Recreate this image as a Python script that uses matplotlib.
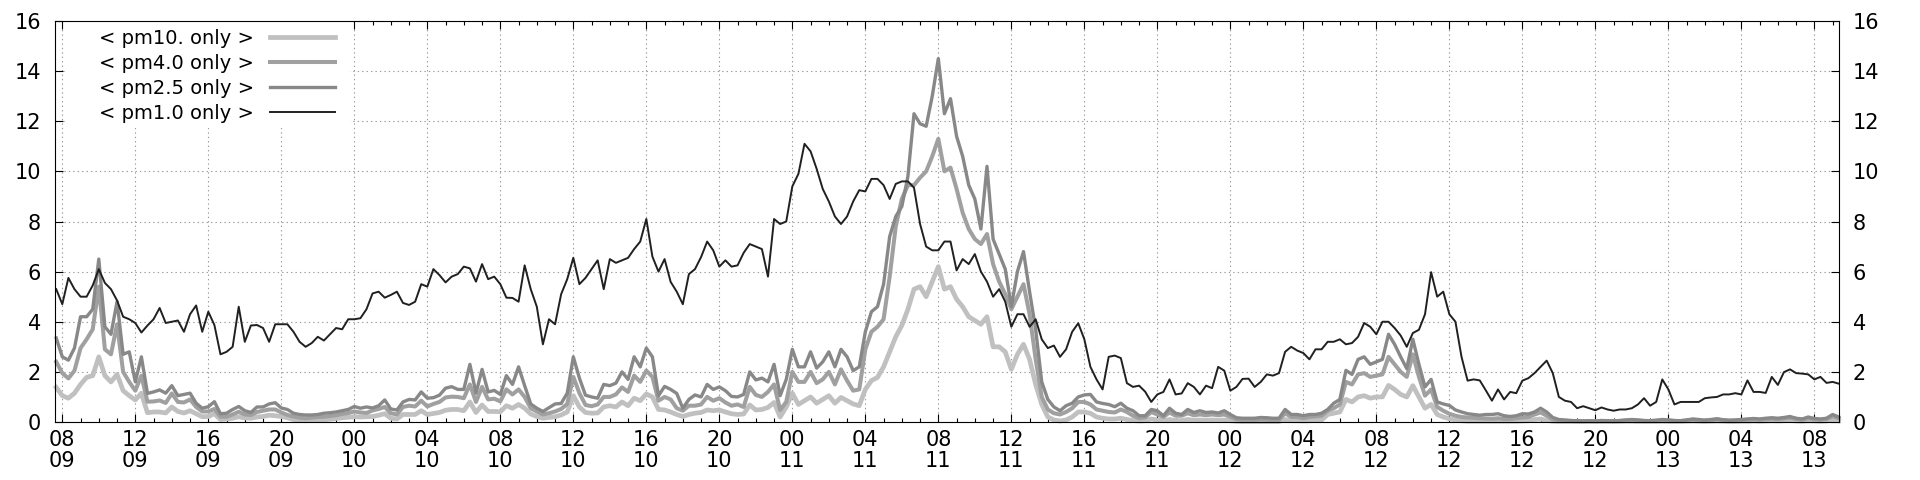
import matplotlib; matplotlib.use("Agg")
import matplotlib.pyplot as plt
import matplotlib.dates as mdates
from matplotlib.patches import Rectangle
import pandas as pd

# ── Data (20-minute samples, 09 07:40 -> 13 09:20) ───────────────────────────
START = "2020-03-09 07:40"

pm1_0 = [
    5.3,
    4.7, 5.75, 5.3, 5.0, 5.0, 5.45, 6.1, 5.55, 5.3, 4.85, 4.2, 4.1,
    3.95, 3.57, 3.85, 4.1, 4.55, 3.95, 4.0, 4.05, 3.6, 4.3, 4.65, 3.6,
    4.4, 3.87, 2.7, 2.8, 3.0, 4.6, 3.2, 3.85, 3.87, 3.75, 3.2, 3.9,
    3.9, 3.9, 3.6, 3.2, 3.0, 3.15, 3.4, 3.25, 3.5, 3.75, 3.7, 4.1,
    4.1, 4.14, 4.5, 5.13, 5.2, 4.96, 5.07, 5.2, 4.75, 4.67, 4.8, 5.5,
    5.4, 6.1, 5.86, 5.57, 5.8, 5.9, 6.2, 6.13, 5.6, 6.3, 5.7, 5.8,
    5.5, 4.96, 4.95, 4.8, 6.25, 5.3, 4.6, 3.1, 4.1, 3.9, 5.1, 5.7,
    6.55, 5.5, 5.75, 6.1, 6.45, 5.3, 6.5, 6.35, 6.45, 6.55, 6.9, 7.2,
    8.1, 6.6, 6.0, 6.5, 5.59, 5.2, 4.7, 5.9, 6.1, 6.58, 7.2, 6.85,
    6.2, 6.45, 6.2, 6.25, 6.75, 7.1, 7.0, 6.9, 5.8, 8.1, 7.9, 8.0,
    9.4, 9.9, 11.1, 10.8, 10.1, 9.3, 8.8, 8.2, 7.9, 8.2, 8.8, 9.25,
    9.2, 9.7, 9.7, 9.45, 8.9, 9.5, 9.6, 9.6, 9.35, 7.9, 7.0, 6.85,
    6.85, 7.2, 7.2, 6.05, 6.5, 6.3, 6.7, 6.0, 5.6, 5.0, 5.3, 4.8,
    3.8, 4.3, 4.3, 3.8, 4.1, 3.3, 2.95, 3.05, 2.6, 2.9, 3.6, 3.94,
    3.3, 2.2, 1.7, 1.3, 2.6, 2.65, 2.55, 1.55, 1.4, 1.45, 1.21, 0.8,
    1.1, 1.2, 1.7, 1.1, 1.14, 1.55, 1.4, 1.1, 1.45, 1.35, 2.2, 2.05,
    1.25, 1.4, 1.72, 1.73, 1.4, 1.6, 1.9, 1.85, 1.95, 2.8, 3.0, 2.85,
    2.75, 2.5, 2.9, 2.9, 3.2, 3.2, 3.3, 3.1, 3.15, 3.4, 3.95, 3.8,
    3.5, 4.0, 4.0, 3.75, 3.45, 3.0, 3.55, 3.68, 4.3, 5.98, 5.0, 5.2,
    4.3, 4.0, 2.6, 1.65, 1.7, 1.66, 1.26, 0.85, 1.3, 0.9, 1.2, 1.15,
    1.65, 1.75, 1.95, 2.2, 2.45, 1.95, 1.0, 0.85, 0.8, 0.55, 0.63, 0.55,
    0.47, 0.58, 0.5, 0.45, 0.5, 0.5, 0.55, 0.7, 0.95, 0.65, 0.8, 1.7,
    1.3, 0.7, 0.8, 0.8, 0.8, 0.8, 0.95, 0.98, 1.0, 1.1, 1.1, 1.15,
    1.1, 1.66, 1.2, 1.2, 1.16, 1.8, 1.48, 1.99, 2.1, 1.95, 1.93, 1.9,
    1.7, 1.8, 1.56, 1.6, 1.53,
]

pm2_5 = [
    3.35,
    2.6, 2.47, 2.95, 4.2, 4.2, 4.5, 6.5, 3.8, 3.5, 4.8, 2.7, 2.8,
    1.6, 2.6, 1.14, 1.2, 1.28, 1.15, 1.45, 1.05, 1.1, 1.15, 0.75, 0.55,
    0.61, 0.81, 0.33, 0.35, 0.5, 0.62, 0.45, 0.38, 0.6, 0.6, 0.72, 0.77,
    0.56, 0.5, 0.35, 0.3, 0.28, 0.28, 0.3, 0.35, 0.37, 0.4, 0.45, 0.5,
    0.62, 0.55, 0.6, 0.56, 0.65, 0.88, 0.52, 0.48, 0.8, 0.9, 0.88, 1.2,
    0.95, 0.97, 1.07, 1.35, 1.41, 1.3, 1.3, 2.3, 1.15, 2.1, 1.2, 1.26,
    1.1, 1.85, 1.5, 2.2, 1.45, 0.72, 0.55, 0.42, 0.57, 0.72, 0.74, 1.15,
    2.6, 1.75, 1.07, 1.0, 0.95, 1.5, 1.45, 1.55, 2.0, 1.7, 2.6, 2.2,
    2.95, 2.6, 1.05, 1.42, 1.3, 1.14, 0.55, 0.9, 1.08, 1.0, 1.5, 1.3,
    1.4, 1.25, 1.02, 1.0, 1.1, 2.0, 1.68, 1.75, 1.6, 2.3, 1.05, 1.7,
    2.9, 2.2, 2.2, 2.8, 2.15, 2.4, 2.8, 2.2, 2.9, 2.6, 2.05, 2.2,
    3.6, 4.4, 4.6, 5.5, 7.4, 8.2, 8.6, 9.8, 12.3, 11.9, 11.8, 13.0,
    14.5, 12.3, 12.9, 11.4, 10.6, 9.45, 8.9, 7.7, 10.2, 7.3, 6.7, 6.1,
    4.6, 6.0, 6.8, 5.2, 3.7, 1.6, 0.9, 0.6, 0.45, 0.65, 0.75, 1.0,
    1.08, 1.1, 0.8, 0.74, 0.7, 0.61, 0.75, 0.55, 0.45, 0.25, 0.25, 0.5,
    0.45, 0.25, 0.55, 0.35, 0.3, 0.5, 0.38, 0.45, 0.38, 0.4, 0.36, 0.45,
    0.3, 0.17, 0.15, 0.15, 0.15, 0.18, 0.17, 0.15, 0.15, 0.5, 0.3, 0.3,
    0.25, 0.3, 0.3, 0.35, 0.5, 0.75, 0.9, 2.06, 1.9, 2.5, 2.6, 2.3,
    2.4, 2.5, 3.5, 3.1, 2.6, 2.13, 3.3, 2.3, 1.4, 1.7, 0.8, 0.72,
    0.66, 0.48, 0.4, 0.33, 0.3, 0.27, 0.3, 0.3, 0.33, 0.25, 0.22, 0.25,
    0.33, 0.32, 0.4, 0.55, 0.4, 0.18, 0.1, 0.08, 0.06, 0.05, 0.04, 0.05,
    0.04, 0.06, 0.05, 0.04, 0.06, 0.08, 0.1, 0.08, 0.06, 0.05, 0.07, 0.1,
    0.08, 0.06, 0.05, 0.08, 0.12, 0.1, 0.07, 0.1, 0.13, 0.09, 0.07, 0.08,
    0.1, 0.12, 0.14, 0.12, 0.15, 0.17, 0.15, 0.18, 0.22, 0.15, 0.12, 0.2,
    0.14, 0.12, 0.15, 0.3, 0.2,
]

pm4_0 = [
    2.4,
    1.95, 1.74, 2.05, 2.95, 3.3, 3.7, 5.4, 2.9, 2.7, 3.9, 2.0, 1.6,
    1.25, 1.85, 0.81, 0.82, 0.86, 0.76, 1.14, 0.8, 0.78, 0.9, 0.6, 0.42,
    0.42, 0.52, 0.21, 0.21, 0.3, 0.41, 0.3, 0.28, 0.4, 0.45, 0.5, 0.5,
    0.38, 0.28, 0.22, 0.17, 0.15, 0.17, 0.2, 0.21, 0.24, 0.27, 0.32, 0.36,
    0.42, 0.38, 0.36, 0.46, 0.52, 0.6, 0.35, 0.3, 0.6, 0.65, 0.62, 0.85,
    0.62, 0.72, 0.8, 0.98, 1.01, 1.0, 0.95, 1.5, 0.8, 1.4, 0.9, 0.93,
    0.82, 1.3, 1.1, 1.3, 1.0, 0.55, 0.42, 0.3, 0.35, 0.42, 0.52, 0.72,
    1.8, 1.15, 0.68, 0.63, 0.7, 1.0, 1.0, 1.1, 1.38, 1.2, 1.85, 1.6,
    2.05, 1.8, 0.85, 1.0, 0.9, 0.55, 0.45, 0.65, 0.65, 0.7, 1.0, 0.85,
    0.95, 0.78, 0.65, 0.7, 0.6, 1.4, 1.08, 1.0, 1.2, 1.5, 0.48, 0.8,
    2.0, 1.6, 1.6, 2.0, 1.55, 1.7, 2.0, 1.5, 2.1, 1.65, 1.25, 1.3,
    2.9, 3.6, 3.8, 4.1, 5.8, 7.8, 8.9, 9.45, 9.45, 9.75, 10.0, 10.6,
    11.3, 10.0, 10.15, 9.3, 8.35, 7.7, 7.3, 7.1, 7.5, 6.3, 5.6, 5.1,
    4.5, 5.0, 5.5, 4.3, 2.5, 1.0, 0.5, 0.35, 0.3, 0.4, 0.55, 0.8,
    0.8, 0.7, 0.5, 0.45, 0.4, 0.38, 0.5, 0.4, 0.25, 0.15, 0.18, 0.4,
    0.3, 0.2, 0.38, 0.25, 0.25, 0.35, 0.27, 0.3, 0.27, 0.3, 0.27, 0.3,
    0.2, 0.1, 0.08, 0.07, 0.08, 0.1, 0.09, 0.08, 0.08, 0.35, 0.2, 0.2,
    0.15, 0.2, 0.22, 0.25, 0.45, 0.55, 0.7, 1.6, 1.5, 1.9, 1.95, 1.8,
    1.85, 1.9, 2.6, 2.3, 2.0, 1.8, 2.7, 1.8, 1.05, 1.3, 0.6, 0.45,
    0.33, 0.25, 0.2, 0.18, 0.17, 0.15, 0.14, 0.13, 0.15, 0.12, 0.12, 0.15,
    0.18, 0.2, 0.3, 0.38, 0.25, 0.1, 0.06, 0.05, 0.04, 0.03, 0.03, 0.04,
    0.03, 0.04, 0.04, 0.03, 0.04, 0.06, 0.07, 0.06, 0.04, 0.04, 0.05, 0.07,
    0.06, 0.04, 0.04, 0.06, 0.09, 0.07, 0.05, 0.07, 0.1, 0.07, 0.05, 0.06,
    0.07, 0.09, 0.1, 0.09, 0.11, 0.13, 0.11, 0.14, 0.17, 0.12, 0.09, 0.15,
    0.1, 0.09, 0.12, 0.23, 0.15,
]

pm10 = [
    1.38,
    1.05, 0.95, 1.15, 1.5, 1.78, 1.85, 2.6, 1.85, 1.6, 1.9, 1.25, 1.05,
    0.88, 1.15, 0.37, 0.4, 0.4, 0.36, 0.6, 0.42, 0.36, 0.45, 0.33, 0.21,
    0.22, 0.33, 0.1, 0.12, 0.15, 0.21, 0.16, 0.15, 0.2, 0.22, 0.27, 0.25,
    0.22, 0.17, 0.1, 0.06, 0.05, 0.07, 0.08, 0.09, 0.11, 0.14, 0.17, 0.19,
    0.21, 0.2, 0.21, 0.22, 0.27, 0.33, 0.15, 0.12, 0.3, 0.3, 0.3, 0.45,
    0.3, 0.34, 0.38, 0.47, 0.5, 0.5, 0.45, 0.8, 0.38, 0.68, 0.42, 0.42,
    0.41, 0.65, 0.55, 0.7, 0.55, 0.32, 0.22, 0.15, 0.18, 0.21, 0.28, 0.4,
    1.05, 0.6, 0.38, 0.35, 0.36, 0.6, 0.65, 0.6, 0.8, 0.65, 0.95, 0.85,
    1.12, 1.0, 0.5, 0.48, 0.4, 0.3, 0.22, 0.3, 0.35, 0.38, 0.48, 0.45,
    0.48, 0.4, 0.33, 0.3, 0.32, 0.68, 0.48, 0.5, 0.58, 0.78, 0.2, 0.6,
    1.15, 0.7, 0.85, 1.0, 0.75, 0.9, 1.05, 0.75, 0.98, 0.85, 0.72, 0.65,
    1.3, 1.65, 1.78, 2.2, 2.8, 3.4, 3.85, 4.5, 5.3, 5.4, 5.0, 5.6,
    6.2, 5.3, 5.4, 4.9, 4.6, 4.2, 4.05, 3.9, 4.2, 3.0, 3.0, 2.8,
    2.1, 2.7, 3.1, 2.5, 1.5, 0.7, 0.2, 0.08, 0.04, 0.08, 0.2, 0.4,
    0.4, 0.35, 0.2, 0.15, 0.12, 0.12, 0.15, 0.1, 0.06, 0.04, 0.05, 0.12,
    0.08, 0.05, 0.1, 0.06, 0.06, 0.1, 0.07, 0.08, 0.07, 0.08, 0.07, 0.08,
    0.05, 0.03, 0.02, 0.02, 0.02, 0.02, 0.02, 0.02, 0.02, 0.1, 0.05, 0.05,
    0.04, 0.05, 0.06, 0.08, 0.3, 0.35, 0.4, 0.9, 0.8, 1.0, 1.05, 0.95,
    1.0, 1.0, 1.46, 1.3, 1.1, 1.0, 1.45, 1.0, 0.55, 0.7, 0.3, 0.2,
    0.13, 0.08, 0.05, 0.03, 0.03, 0.03, 0.03, 0.03, 0.03, 0.03, 0.03, 0.03,
    0.04, 0.05, 0.1, 0.12, 0.06, 0.03, 0.02, 0.02, 0.02, 0.02, 0.02, 0.02,
    0.02, 0.02, 0.02, 0.02, 0.02, 0.03, 0.03, 0.02, 0.02, 0.02, 0.02, 0.03,
    0.02, 0.02, 0.02, 0.03, 0.04, 0.03, 0.02, 0.03, 0.04, 0.03, 0.02, 0.02,
    0.03, 0.03, 0.04, 0.03, 0.04, 0.05, 0.04, 0.05, 0.06, 0.04, 0.03, 0.05,
    0.04, 0.03, 0.04, 0.08, 0.05,
]

labels = ["< pm10. only >", "< pm4.0 only >", "< pm2.5 only >", "< pm1.0 only >"]
times = pd.date_range(START, periods=len(pm1_0), freq="20min")

# ── Figure ────────────────────────────────────────────────────────────────────
plt.rcParams["font.family"] = ["DejaVu Sans"]
plt.rcParams["font.size"] = 15

fig = plt.figure(figsize=(19.2, 4.8), dpi=100)
ax = fig.add_axes([55 / 1920, 58 / 480, 1784 / 1920, 401 / 480])

styles = [
    (pm10,  "#c0c0c0", 3.4),
    (pm4_0, "#a0a0a0", 2.9),
    (pm2_5, "#888888", 2.4),
    (pm1_0, "#202020", 1.4),
]
for (vals, col, lw), lab in zip(styles, labels):
    ax.plot(times, vals, color=col, lw=lw, label=lab, clip_on=False,
            solid_joinstyle="round", zorder=2)

ax.set_xlim(pd.Timestamp("2020-03-09 07:36"), pd.Timestamp("2020-03-13 09:21"))
ax.set_ylim(0, 16)
ax.set_yticks(range(0, 17, 2))

ax.xaxis.set_major_locator(mdates.HourLocator(byhour=range(0, 24, 4)))
ax.xaxis.set_minor_locator(mdates.HourLocator())
ax.xaxis.set_major_formatter(mdates.DateFormatter("%H\n%d"))

ax.tick_params(axis="x", which="both", direction="in", top=True, bottom=True, pad=6)
ax.tick_params(axis="y", which="both", direction="in", left=True, right=True,
               labelleft=True, labelright=True, pad=10)
ax.tick_params(which="major", length=6, width=0.8)
ax.tick_params(which="minor", length=3, width=0.8)
for sp in ax.spines.values():
    sp.set_linewidth(0.8)

ax.set_axisbelow(True)
ax.grid(True, which="major", linestyle=(0, (1.2, 2.8)), color="#999999", linewidth=0.8)

# white key box over the grid (gnuplot style)
ax.add_patch(Rectangle((0.0056, 0.733), 0.16, 0.267, transform=ax.transAxes,
                       facecolor="white", edgecolor="none", zorder=1))
ax.legend(loc="upper left", bbox_to_anchor=(0.0247, 0.980), markerfirst=False,
          frameon=False, handlelength=3.35, handletextpad=0.8, labelspacing=0.31,
          borderaxespad=0, borderpad=0, fontsize=14)

fig.canvas.draw()
for t in ax.xaxis.get_major_ticks():
    t.label1.set_linespacing(1.03)

fig.savefig("out.png", dpi=100)
